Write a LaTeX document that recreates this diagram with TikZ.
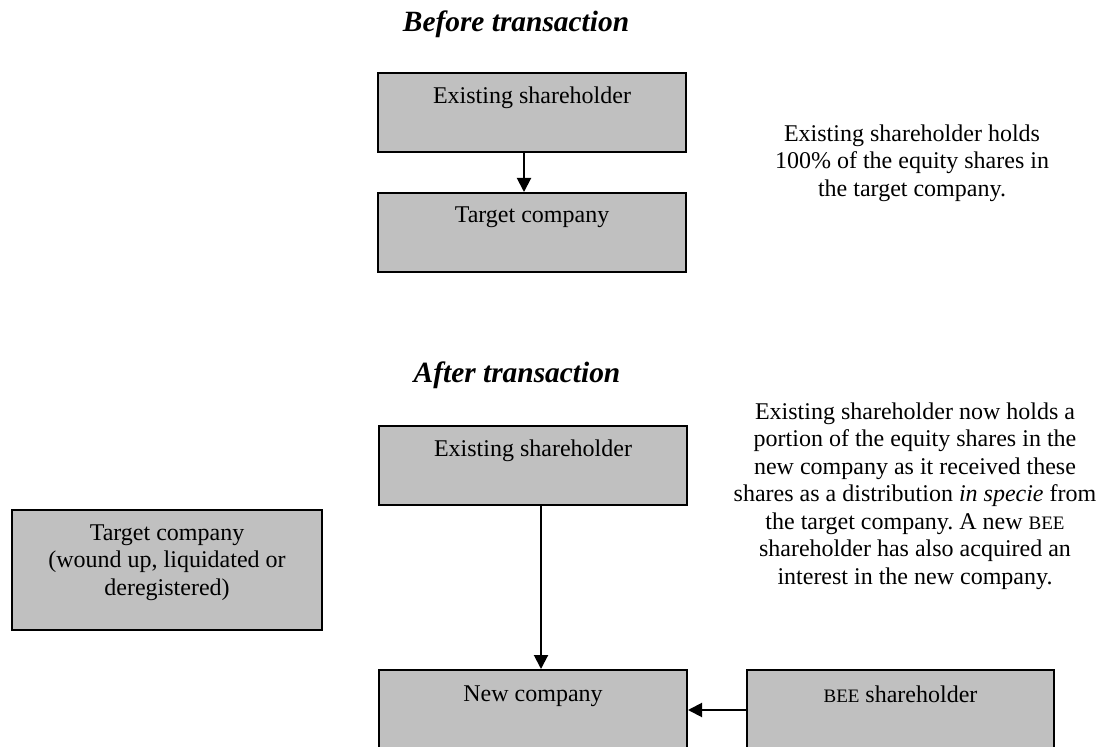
\documentclass[tikz,border=0pt]{standalone}
\usepackage{fontspec}
\setmainfont{Liberation Serif}
\usetikzlibrary{arrows.meta,positioning}
\definecolor{boxgray}{HTML}{C0C0C0}
\newcommand{\bee}{{\fontsize{9.5}{13.75}\selectfont BEE}}

\begin{document}
\begin{tikzpicture}[x=0.5pt, y=-0.5pt,
    every node/.style={font=\fontsize{12}{13.75}\selectfont},
    box/.style={draw, fill=boxgray, line width=1pt, inner sep=0pt},
    boxtext/.style={inner sep=0pt, align=center},
    heading/.style={font=\fontsize{14.7}{16}\selectfont\bfseries\itshape},
    link/.style={line width=1pt, -{Triangle[length=7pt, width=7pt]}}]
    \clip (0,0) rectangle (1101,747);

    % Before the transaction
        \node[heading] (before) at (516,24) {Before transaction};
        \node[box, minimum width=154pt, minimum height=39.5pt] (holder) at (532,112.5) {};
        \node[box, minimum width=154pt, minimum height=39.5pt] (target) at (532,232.5) {};
        \node[boxtext, below=7pt of holder.north] (holdertext) {Existing shareholder};
        \node[boxtext, below=7pt of target.north] (targettext) {Target company};
        \node[boxtext] (beforenote) at (912,163) {Existing shareholder holds\\100\% of the equity shares in\\the target company.};

    % After the transaction
        \node[heading] (after) at (517,375) {After transaction};
        \node[box, minimum width=154pt, minimum height=39.5pt] (newholder) at (533,465.5) {};
        \node[box, minimum width=155pt, minimum height=60pt] (oldtarget) at (167,570) {};
        \node[box, minimum width=154pt, minimum height=60pt] (newco) at (533,730) {};
        \node[box, minimum width=153.5pt, minimum height=60pt] (beeholder) at (900.5,730) {};
        \node[boxtext, below=7pt of newholder.north] (newholdertext) {Existing shareholder};
        \node[boxtext, below=7.5pt of oldtarget.north] (oldtargettext) {Target company\\(wound up, liquidated or\\deregistered)};
        \node[boxtext, below=8pt of newco.north] (newcotext) {New company};
        \node[boxtext, below=8pt of beeholder.north] (beeholdertext) {\bee{} shareholder};
        \node[boxtext] (afternote) at (915,496) {Existing shareholder now holds a\\portion of the equity shares in the\\new company as it received these\\shares as a distribution \textit{in specie} from\\the target company.\ A new \bee\\shareholder has also acquired an\\interest in the new company.};

    % Now draw the arrows:
        \draw[link] ([xshift=-4pt]holder.south) -- ([xshift=-4pt]target.north);
        \draw[link] ([xshift=4pt]newholder.south) -- ([xshift=4pt]newco.north);
        \draw[link] (beeholder.west |- 0,710) -- (newco.east |- 0,710);
\end{tikzpicture}
\end{document}
